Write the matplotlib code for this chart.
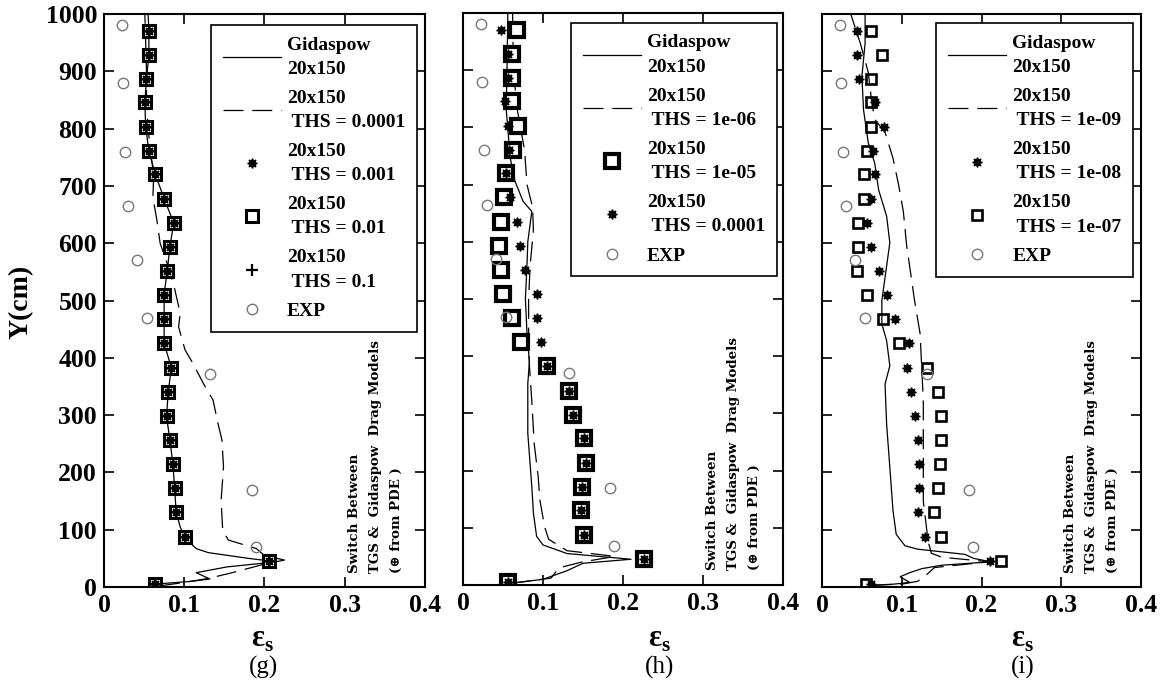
import matplotlib
matplotlib.use("Agg")
import matplotlib.pyplot as plt

plt.rcParams["font.family"] = ["Liberation Serif", "DejaVu Sans"]
plt.rcParams["font.weight"] = "bold"
plt.rcParams["mathtext.fontset"] = "custom"
plt.rcParams["mathtext.rm"] = "Liberation Serif:bold"

# heights (cm) of the sampled cells, shared by every marker series
probe_y = [5, 46, 88, 131, 172, 214, 257, 298, 340, 383, 425, 467,
           509, 551, 593, 635, 678, 720, 761, 803, 846, 887, 929, 971]

# experimental profile, same in all panels
exp_eps = [0.023, 0.024, 0.026, 0.030, 0.041, 0.054, 0.132, 0.184, 0.189]
exp_y = [981, 879, 760, 665, 570, 469, 371, 169, 69]

# (g) THS = 0.001 / 0.01 / 0.1 all fall on the same points
g_ths_eps = [0.063, 0.206, 0.101, 0.090, 0.088, 0.086, 0.082, 0.078, 0.080, 0.084, 0.075, 0.075,
             0.075, 0.079, 0.082, 0.087, 0.075, 0.064, 0.056, 0.052, 0.051, 0.053, 0.056, 0.056]
g_gid_y = [0, 5, 10, 14, 25, 35, 44, 50, 60, 67, 85, 105, 131, 173, 214, 258, 298, 339, 383,
           425, 466, 512, 552, 593, 635, 678, 720, 761, 803, 845, 887, 928, 971, 1000]
g_gid_eps = [0.060, 0.063, 0.110, 0.132, 0.115, 0.153, 0.215, 0.180, 0.130, 0.115, 0.101, 0.095,
             0.090, 0.088, 0.086, 0.082, 0.078, 0.080, 0.084, 0.075, 0.075, 0.075, 0.079, 0.082,
             0.087, 0.075, 0.064, 0.056, 0.052, 0.051, 0.053, 0.056, 0.056, 0.055]
g_dash_y = [2, 8, 15, 25, 40, 47, 55, 67, 82, 99, 151, 210, 257, 286, 326, 355, 390, 414, 454,
            478, 521, 560, 600, 640, 680, 720, 760, 800, 850, 900, 950, 1000]
g_dash_eps = [0.070, 0.100, 0.130, 0.160, 0.200, 0.225, 0.200, 0.190, 0.155, 0.148, 0.146, 0.149,
              0.147, 0.142, 0.136, 0.124, 0.111, 0.101, 0.093, 0.095, 0.088, 0.080, 0.070, 0.066,
              0.061, 0.062, 0.058, 0.055, 0.053, 0.053, 0.052, 0.051]

# (h)
h_sq_eps = [0.056, 0.226, 0.151, 0.147, 0.149, 0.154, 0.151, 0.137, 0.132, 0.105, 0.073, 0.061,
            0.050, 0.048, 0.045, 0.048, 0.051, 0.054, 0.063, 0.069, 0.061, 0.061, 0.061, 0.067]
h_star_eps = [0.056, 0.226, 0.151, 0.147, 0.149, 0.154, 0.151, 0.137, 0.132, 0.105, 0.097, 0.092,
              0.093, 0.078, 0.071, 0.067, 0.059, 0.054, 0.058, 0.056, 0.052, 0.056, 0.056, 0.047]
h_gid_y = [2, 10, 25, 38, 45, 55, 70, 85, 126, 172, 265, 352, 390, 440, 500, 560, 600, 653,
           671, 706, 747, 832, 900, 1000]
h_gid_eps = [0.055, 0.100, 0.130, 0.150, 0.210, 0.130, 0.100, 0.092, 0.088, 0.086, 0.081, 0.081,
             0.083, 0.080, 0.078, 0.080, 0.081, 0.086, 0.075, 0.065, 0.059, 0.054, 0.055, 0.056]
h_dash_y = [3, 12, 30, 40, 50, 60, 80, 102, 149, 189, 247, 322, 384, 440, 500, 560, 620, 660,
            700, 760, 830, 900, 1000]
h_dash_eps = [0.060, 0.110, 0.120, 0.148, 0.190, 0.130, 0.107, 0.102, 0.096, 0.094, 0.089, 0.086,
              0.083, 0.082, 0.082, 0.084, 0.088, 0.087, 0.080, 0.077, 0.068, 0.063, 0.062]

# (i)
i_sq_eps = [0.055, 0.225, 0.149, 0.140, 0.146, 0.148, 0.149, 0.149, 0.146, 0.131, 0.096, 0.076,
            0.056, 0.044, 0.045, 0.045, 0.052, 0.052, 0.056, 0.062, 0.062, 0.061, 0.075, 0.061]
i_star_eps = [0.062, 0.211, 0.129, 0.120, 0.121, 0.121, 0.120, 0.117, 0.112, 0.106, 0.109, 0.092,
              0.082, 0.072, 0.062, 0.056, 0.061, 0.066, 0.064, 0.078, 0.066, 0.046, 0.044, 0.044]
i_gid_y = [3, 5, 8, 12, 18, 25, 32, 38, 44, 50, 57, 66, 72, 92, 133, 209, 284, 354, 386, 430,
           459, 500, 550, 601, 647, 693, 740, 775, 833, 891, 949, 1000]
i_gid_eps = [0.062, 0.090, 0.110, 0.105, 0.098, 0.110, 0.125, 0.150, 0.212, 0.190, 0.179, 0.120,
             0.104, 0.093, 0.089, 0.085, 0.081, 0.079, 0.085, 0.081, 0.075, 0.075, 0.080, 0.085,
             0.081, 0.071, 0.066, 0.058, 0.052, 0.050, 0.054, 0.054]
i_dash_y = [3, 5, 10, 20, 34, 44, 52, 59, 80, 150, 209, 325, 383, 442, 500, 539, 597, 655, 702,
            748, 794, 816, 850, 898, 949, 1000]
i_dash_eps = [0.062, 0.100, 0.120, 0.130, 0.141, 0.210, 0.150, 0.137, 0.133, 0.127, 0.127, 0.127,
              0.125, 0.123, 0.116, 0.112, 0.106, 0.102, 0.096, 0.089, 0.079, 0.066, 0.062, 0.058,
              0.048, 0.036]

x_ticks = [0, 0.1, 0.2, 0.3, 0.4]
x_tick_labels = ["0", "0.1", "0.2", "0.3", "0.4"]
y_ticks = [0, 100, 200, 300, 400, 500, 600, 700, 800, 900, 1000]

note = "Switch Between\nTGS &  Gidaspow  Drag Models\n(\u2295 from PDE )"
DASH = (0, (16, 7))
STAR = (8, 1, 0)


def style_axes(ax, ylabels):
    ax.set_xlim(0, 0.4)
    ax.set_ylim(0, 1000)
    ax.set_xticks(x_ticks)
    ax.set_xticklabels(x_tick_labels)
    ax.set_yticks(y_ticks)
    if not ylabels:
        ax.set_yticklabels([])
    ax.tick_params(direction="in", top=True, right=True, length=7, width=1.2,
                   labelsize=18.5, pad=5)
    for s in ax.spines.values():
        s.set_linewidth(1.5)


def add_legend(ax, anchor):
    leg = ax.legend(loc="upper right", bbox_to_anchor=anchor, borderaxespad=0,
                    prop=dict(family="Liberation Serif", weight="bold", size=14),
                    handlelength=3.0, handletextpad=0.3, labelspacing=0.62,
                    borderpad=0.6, numpoints=1, fancybox=False, framealpha=1)
    for t in leg.get_texts():
        t.set_linespacing(1.55)
    leg.get_frame().set_edgecolor("black")
    leg.get_frame().set_linewidth(1.2)


def add_note(ax, y0):
    # model-switch remark written up the right side of each panel
    ax.text(0.338, y0, note, rotation=90, ha="center", va="bottom", fontsize=9.6,
            family=["DejaVu Serif", "DejaVu Sans"], multialignment="left", linespacing=1.8)


def plot_exp(ax):
    ax.plot(exp_eps, exp_y, ls="none", marker="o", ms=7.5, mfc="none", mec="#777777",
            mew=1.0, label="EXP")


fig = plt.figure(figsize=(11.68, 6.91), dpi=100)
ax_g = fig.add_axes([0.0890, 0.1505, 0.2748, 0.8292])
ax_h = fig.add_axes([0.3964, 0.1534, 0.2740, 0.8278])
ax_i = fig.add_axes([0.7038, 0.1505, 0.2731, 0.8292])

# (g)
ax_g.plot(g_gid_eps, g_gid_y, color="black", lw=0.9, label="Gidaspow\n20x150")
ax_g.plot(g_dash_eps, g_dash_y, color="black", lw=0.9, ls=DASH, label="20x150\n THS = 0.0001")
ax_g.plot([], [], ls="none", marker=STAR, ms=7, color="black", label="20x150\n THS = 0.001")
ax_g.plot(g_ths_eps, probe_y, ls="none", marker="s", ms=8.6, mfc="white", mec="black",
          mew=2.2, label="20x150\n THS = 0.01")
ax_g.plot(g_ths_eps, probe_y, ls="none", marker=STAR, ms=7, color="black")
ax_g.plot(g_ths_eps, probe_y, ls="none", marker="+", ms=9, mew=1.6, color="black",
          label="20x150\n THS = 0.1")
plot_exp(ax_g)
style_axes(ax_g, True)
add_legend(ax_g, (0.975, 0.981))
add_note(ax_g, 24)

# (h)
ax_h.plot(h_gid_eps, h_gid_y, color="black", lw=0.9, label="Gidaspow\n20x150")
ax_h.plot(h_dash_eps, h_dash_y, color="black", lw=0.9, ls=DASH, label="20x150\n THS = 1e-06")
ax_h.plot(h_sq_eps, probe_y, ls="none", marker="s", ms=9.4, mfc="white", mec="black",
          mew=3.0, label="20x150\n THS = 1e-05")
ax_h.plot(h_star_eps, probe_y, ls="none", marker=STAR, ms=7, color="black",
          label="20x150\n THS = 0.0001")
plot_exp(ax_h)
style_axes(ax_h, False)
add_legend(ax_h, (0.981, 0.983))
add_note(ax_h, 26)

# (i)
ax_i.plot(i_gid_eps, i_gid_y, color="black", lw=0.9, label="Gidaspow\n20x150")
ax_i.plot(i_dash_eps, i_dash_y, color="black", lw=0.9, ls=DASH, label="20x150\n THS = 1e-09")
ax_i.plot(i_star_eps, probe_y, ls="none", marker=STAR, ms=7, color="black",
          label="20x150\n THS = 1e-08")
ax_i.plot(i_sq_eps, probe_y, ls="none", marker="s", ms=7.4, mfc="none", mec="black",
          mew=1.9, label="20x150\n THS = 1e-07")
plot_exp(ax_i)
style_axes(ax_i, False)
add_legend(ax_i, (0.975, 0.984))
add_note(ax_i, 24)

# labels below and beside the panels
eps_label = "$\\mathrm{ε}_{\\mathrm{s}}$"
fig.text(21 / 1168, 1 - 302 / 691, "Y(cm)", rotation=90, ha="center", va="center", fontsize=20)
for xc, tag in [(263, "(g)"), (660, "(h)"), (1023, "(i)")]:
    fig.text(xc / 1168, 1 - 640 / 691, eps_label, ha="center", va="center", fontsize=22)
    fig.text(xc / 1168, 1 - 667 / 691, tag, ha="center", va="center", fontsize=18,
             fontweight="normal")

fig.savefig("out.png", dpi=100)
